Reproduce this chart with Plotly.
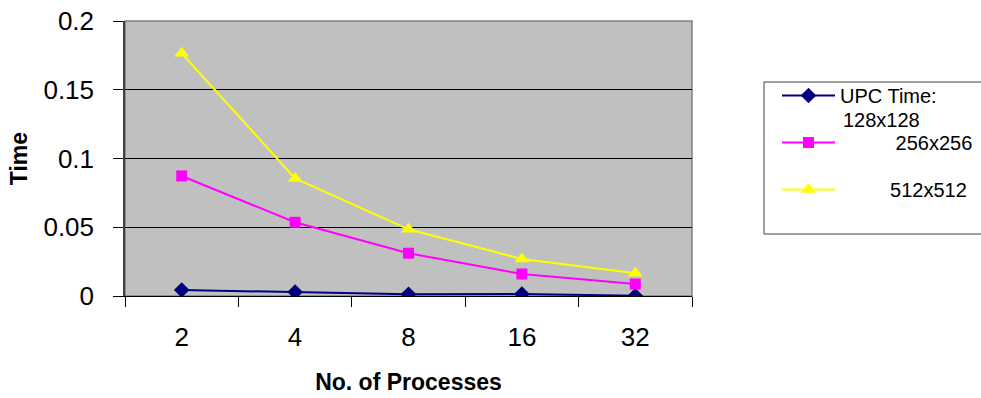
import plotly.graph_objects as go

# Number of processes (categorical x axis)
processes = ["2", "4", "8", "16", "32"]

# Run times for each grid size
time_128 = [0.0044, 0.0029, 0.0012, 0.0015, 0.0002]
time_256 = [0.0873, 0.0536, 0.0311, 0.0160, 0.0087]
time_512 = [0.1765, 0.0855, 0.0485, 0.0269, 0.0165]

series_names = [
    "UPC Time:",
    "\u00a0" * 10 + "256x256",
    "\u00a0" * 9 + "512x512",
]
first_name_cont = "128x128"
series_colors = ["#000080", "#FF00FF", "#FFFF00"]
series_symbols = ["diamond", "square", "triangle-up"]
series_sizes = [12, 11, 13]

FONT = "Liberation Sans, Arial, sans-serif"

fig = go.Figure()
for i, (vals, name, color, sym, size) in enumerate(zip(
    [time_128, time_256, time_512], series_names, series_colors, series_symbols, series_sizes
)):
    fig.add_trace(
        go.Scatter(
            x=processes,
            y=vals,
            name=name,
            legendgroup=f"g{i}",
            mode="lines+markers",
            line=dict(color=color, width=2),
            marker=dict(symbol=sym, size=size, color=color),
        )
    )

W, H = 981, 398
L, R, T, B = 125, 289, 21, 102
pw = W - L - R
ph = H - T - B

def px_x(p):
    return (p - L) / pw

def px_y(p):
    return 1 - (p - T) / ph

fig.update_layout(
    width=W,
    height=H,
    margin=dict(l=L, r=R, t=T, b=B, autoexpand=False),
    paper_bgcolor="white",
    plot_bgcolor="#C0C0C0",
    font=dict(family=FONT, color="black"),
    showlegend=True,
    legend=dict(
        x=px_x(777),
        y=px_y(76),
        xanchor="left",
        yanchor="top",
        bgcolor="rgba(0,0,0,0)",
        borderwidth=0,
        font=dict(size=20, family=FONT, color="black"),
        itemwidth=53,
        valign="top",
        tracegroupgap=18,
    ),
    annotations=[
        # second line of the first legend label
        dict(
            text=first_name_cont,
            xref="paper",
            yref="paper",
            x=px_x(841),
            y=px_y(120),
            xanchor="left",
            yanchor="middle",
            showarrow=False,
            font=dict(size=20, family=FONT, color="black"),
        )
    ],
    shapes=[
        # legend frame, running off the right edge
        dict(
            type="rect",
            xref="paper",
            yref="paper",
            x0=px_x(764),
            x1=px_x(1000),
            y0=px_y(234),
            y1=px_y(82),
            line=dict(color="#404040", width=1),
            fillcolor="white",
            layer="below",
        ),
        # plot area frame (top and right edges)
        dict(
            type="rect",
            xref="paper",
            yref="paper",
            x0=0, x1=1, y0=0, y1=1,
            line=dict(color="#808080", width=1.5),
            layer="below",
        ),
    ],
)

fig.update_xaxes(
    type="category",
    range=[-0.5, 4.5],
    showgrid=False,
    showline=True,
    linecolor="black",
    linewidth=1,
    ticks="outside",
    tickson="boundaries",
    ticklen=10,
    tickcolor="black",
    tickfont=dict(size=26, family=FONT),
    ticklabelstandoff=18,
    title=dict(
        text="<b>No. of Processes</b>",
        font=dict(size=23, family=FONT),
        standoff=22,
    ),
    zeroline=False,
)

fig.update_yaxes(
    range=[0, 0.2],
    dtick=0.05,
    tick0=0,
    showgrid=True,
    gridcolor="black",
    gridwidth=1,
    showline=True,
    linecolor="#404040",
    linewidth=1.5,
    ticks="outside",
    ticklen=10,
    tickcolor="black",
    tickfont=dict(size=26, family=FONT),
    ticklabelstandoff=14,
    title=dict(
        text="<b>Time</b>",
        font=dict(size=23, family=FONT),
        standoff=9,
    ),
    zeroline=False,
)

fig.write_html("out.html")
